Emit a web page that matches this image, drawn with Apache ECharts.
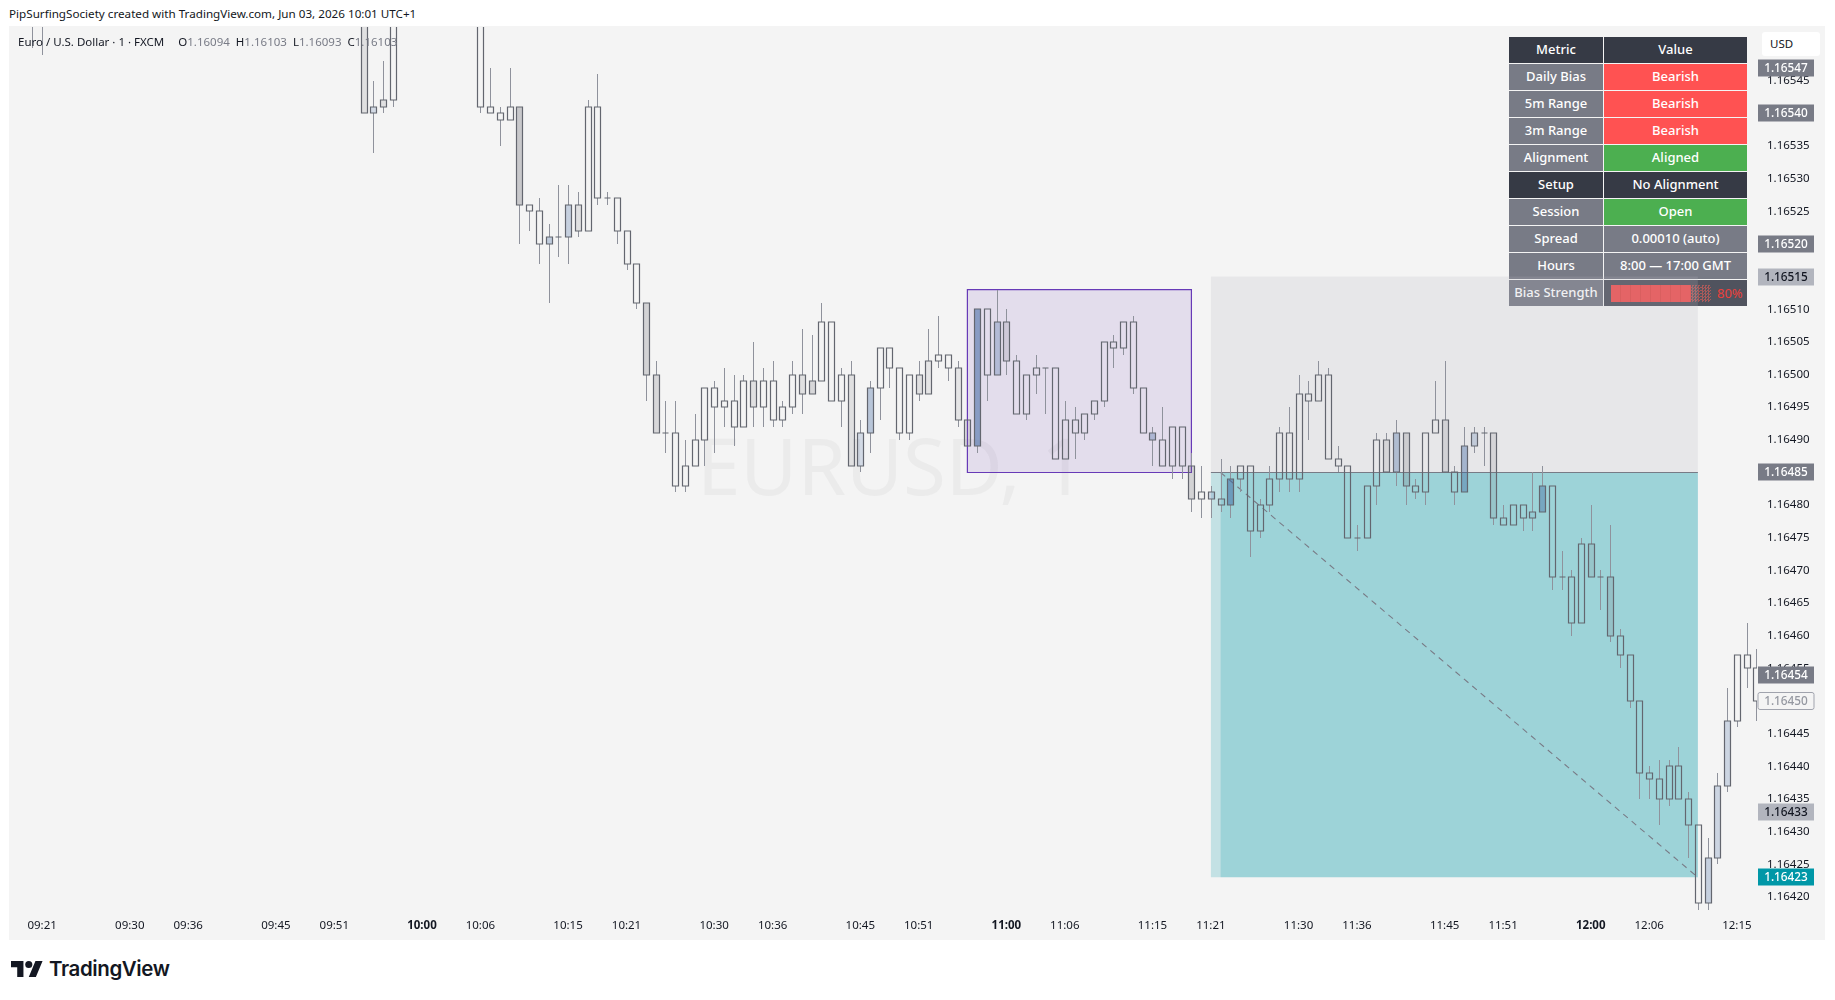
<!DOCTYPE html>
<html lang="en">
<head>
<meta charset="UTF-8">
<title>EURUSD 1m</title>
<style>
    html, body { margin: 0; padding: 0; background: #fff; overflow: hidden; }
    body { width: 1835px; height: 1000px; position: relative; font-family: "Noto Sans", sans-serif; color: #131722; }
    #stamp { position: absolute; left: 9px; top: 6px; font-size: 11.67px; line-height: 16px; white-space: nowrap; }
    #pane { position: absolute; left: 9px; top: 26px; width: 1816px; height: 914px; background: #f4f4f4; }
    #chart { position: absolute; left: 0; top: 0; width: 1835px; height: 1000px; z-index: 2; }
    #legend { position: absolute; left: 18px; top: 33px; font-size: 11.5px; line-height: 18px; z-index: 3; white-space: nowrap; }
    #legend span { margin-left: 6px; }
    #legend span:first-child { margin-left: 14px; }
    #legend i { font-style: normal; color: #787b86; }
    #usd { position: absolute; left: 1762px; top: 32px; width: 58px; height: 24px; line-height: 24px; background: #fff; border-radius: 3px; font-size: 11.5px; text-indent: 8px; }
    #logo { position: absolute; left: 11px; top: 959px; display: flex; align-items: center; font: 600 20.5px/20px Inter, sans-serif; color: #131722; letter-spacing: -0.4px; }
    #logo svg { margin-right: 6px; }
    /* info table, sits under the transparent canvas so the zone can wash over it */
    #info { position: absolute; left: 1509px; top: 37px; width: 238px; z-index: 1; font-size: 13px; font-weight: 500; color: #fff; }
    #info div.row { display: flex; height: 26px; margin-bottom: 1px; line-height: 25px; text-align: center; }
    #info div.a { width: 94px; margin-right: 1px; }
    #info div.b { width: 143px; }
    .head { background: #363a45; } .plain { background: #787b86; } .bear { background: #ff5252; } .bull { background: #4caf50; } .dark { background: #50535e; }
    #meter { display: flex; align-items: center; height: 26px; padding-left: 7px; }
    #meter b { display: block; width: 10px; height: 17px; box-sizing: border-box; background: #f05050; border-right: 1px solid #e34a48; }
    #meter b.off { background: repeating-conic-gradient(#a85a5a 0 25%, transparent 0 50%) 0 0/3px 3px; border: 0; }
    #meter em { font-style: normal; font-weight: 400; color: #ec3f3b; margin-left: 6px; }
</style>
</head>
<body>
<div id="stamp">PipSurfingSociety created with TradingView.com, Jun 03, 2026 10:01 UTC+1</div>
<div id="pane"></div>
<div id="info"></div>
<div id="usd">USD</div>
<div id="chart"></div>
<div id="legend">Euro / U.S. Dollar · 1 · FXCM<span>O<i>1.16094</i></span><span>H<i>1.16103</i></span><span>L<i>1.16093</i></span><span>C<i>1.16103</i></span></div>
<div id="logo">
    <svg width="32" height="16" viewBox="0 0 36 18"><path fill="#131722" d="M14 18H7V7H0V0h14v18zM28 18h-8l7.5-18h8L28 18z"/><circle fill="#131722" cx="20" cy="4" r="4"/></svg>
    TradingView
</div>

<script src="https://cdn.jsdelivr.net/npm/echarts@6/dist/echarts.min.js"></script>
<script>
// 1 minute bars that show in the picture (the ones in between sit above the top of the chart)
var times = [
    '09:20','09:21','09:54','09:55','09:56','09:57','10:06','10:07','10:08','10:09',
    '10:10','10:11','10:12','10:13','10:14','10:15','10:16','10:17','10:18','10:19',
    '10:20','10:21','10:22','10:23','10:24','10:25','10:26','10:27','10:28','10:29',
    '10:30','10:31','10:32','10:33','10:34','10:35','10:36','10:37','10:38','10:39',
    '10:40','10:41','10:42','10:43','10:44','10:45','10:46','10:47','10:48','10:49',
    '10:50','10:51','10:52','10:53','10:54','10:55','10:56','10:57','10:58','10:59',
    '11:00','11:01','11:02','11:03','11:04','11:05','11:06','11:07','11:08','11:09',
    '11:10','11:11','11:12','11:13','11:14','11:15','11:16','11:17','11:18','11:19',
    '11:20','11:21','11:22','11:23','11:24','11:25','11:26','11:27','11:28','11:29',
    '11:30','11:31','11:32','11:33','11:34','11:35','11:36','11:37','11:38','11:39',
    '11:40','11:41','11:42','11:43','11:44','11:45','11:46','11:47','11:48','11:49',
    '11:50','11:51','11:52','11:53','11:54','11:55','11:56','11:57','11:58','11:59',
    '12:00','12:01','12:02','12:03','12:04','12:05','12:06','12:07','12:08','12:09',
    '12:10','12:11','12:12','12:13','12:14','12:15','12:16','12:17'
];
var opens = [
    1.16560,1.16558,1.16558,1.16540,1.16542,1.16542,1.16560,1.16541,1.16540,1.16539,
    1.16541,1.16526,1.16525,1.16520,1.16521,1.16521,1.16526,1.16522,1.16541,1.16527,
    1.16527,1.16522,1.16517,1.16511,1.16500,1.16491,1.16491,1.16483,1.16486,1.16490,
    1.16498,1.16495,1.16496,1.16492,1.16499,1.16495,1.16499,1.16493,1.16495,1.16500,
    1.16499,1.16499,1.16508,1.16496,1.16500,1.16486,1.16491,1.16498,1.16504,1.16501,
    1.16491,1.16500,1.16502,1.16502,1.16503,1.16501,1.16493,1.16489,1.16510,1.16500,
    1.16508,1.16502,1.16494,1.16500,1.16501,1.16501,1.16487,1.16493,1.16491,1.16494,
    1.16496,1.16505,1.16504,1.16508,1.16498,1.16490,1.16490,1.16486,1.16492,1.16486,
    1.16481,1.16481,1.16480,1.16480,1.16484,1.16486,1.16476,1.16480,1.16484,1.16491,
    1.16484,1.16497,1.16496,1.16500,1.16487,1.16486,1.16475,1.16475,1.16483,1.16490,
    1.16485,1.16491,1.16483,1.16482,1.16491,1.16493,1.16485,1.16482,1.16489,1.16491,
    1.16491,1.16478,1.16477,1.16480,1.16478,1.16479,1.16483,1.16469,1.16469,1.16462,
    1.16474,1.16469,1.16469,1.16460,1.16457,1.16450,1.16439,1.16438,1.16435,1.16440,
    1.16435,1.16431,1.16419,1.16426,1.16437,1.16447,1.16457,1.16455
];
var highs = [
    1.16562,1.16560,1.16560,1.16545,1.16548,1.16560,1.16561,1.16547,1.16541,1.16547,
    1.16541,1.16526,1.16527,1.16523,1.16529,1.16529,1.16528,1.16542,1.16546,1.16528,
    1.16527,1.16522,1.16517,1.16511,1.16502,1.16496,1.16496,1.16490,1.16494,1.16498,
    1.16499,1.16501,1.16500,1.16500,1.16505,1.16501,1.16502,1.16496,1.16502,1.16507,
    1.16506,1.16511,1.16508,1.16501,1.16502,1.16493,1.16499,1.16504,1.16504,1.16501,
    1.16500,1.16502,1.16507,1.16509,1.16503,1.16502,1.16493,1.16510,1.16510,1.16513,
    1.16510,1.16503,1.16500,1.16503,1.16501,1.16501,1.16496,1.16495,1.16494,1.16496,
    1.16505,1.16506,1.16508,1.16509,1.16498,1.16492,1.16495,1.16492,1.16492,1.16488,
    1.16486,1.16483,1.16487,1.16486,1.16486,1.16486,1.16481,1.16486,1.16492,1.16495,
    1.16500,1.16499,1.16502,1.16501,1.16489,1.16486,1.16477,1.16483,1.16491,1.16491,
    1.16493,1.16491,1.16484,1.16491,1.16499,1.16502,1.16486,1.16492,1.16492,1.16492,
    1.16491,1.16480,1.16480,1.16480,1.16485,1.16486,1.16483,1.16473,1.16470,1.16475,
    1.16480,1.16470,1.16477,1.16461,1.16457,1.16450,1.16440,1.16441,1.16441,1.16443,
    1.16436,1.16431,1.16429,1.16439,1.16452,1.16457,1.16462,1.16458
];
var lows = [
    1.16550,1.16549,1.16540,1.16534,1.16540,1.16541,1.16540,1.16540,1.16535,1.16539,
    1.16520,1.16522,1.16517,1.16511,1.16518,1.16517,1.16521,1.16522,1.16526,1.16526,
    1.16520,1.16516,1.16510,1.16496,1.16491,1.16488,1.16482,1.16482,1.16486,1.16486,
    1.16488,1.16492,1.16489,1.16492,1.16492,1.16492,1.16492,1.16492,1.16494,1.16494,
    1.16497,1.16499,1.16496,1.16492,1.16486,1.16485,1.16488,1.16493,1.16498,1.16490,
    1.16490,1.16496,1.16497,1.16501,1.16499,1.16492,1.16489,1.16488,1.16496,1.16500,
    1.16500,1.16494,1.16493,1.16497,1.16494,1.16487,1.16487,1.16487,1.16490,1.16493,
    1.16495,1.16501,1.16503,1.16497,1.16491,1.16486,1.16486,1.16484,1.16484,1.16479,
    1.16478,1.16478,1.16479,1.16478,1.16482,1.16472,1.16475,1.16479,1.16482,1.16482,
    1.16482,1.16490,1.16496,1.16487,1.16485,1.16475,1.16473,1.16475,1.16480,1.16485,
    1.16483,1.16480,1.16481,1.16480,1.16491,1.16485,1.16480,1.16482,1.16488,1.16486,
    1.16477,1.16477,1.16477,1.16476,1.16476,1.16479,1.16467,1.16467,1.16460,1.16462,
    1.16469,1.16464,1.16459,1.16455,1.16449,1.16435,1.16435,1.16431,1.16434,1.16435,
    1.16426,1.16418,1.16418,1.16425,1.16436,1.16446,1.16452,1.16447
];
var closes = [
    1.16558,1.16556,1.16540,1.16541,1.16541,1.16558,1.16541,1.16540,1.16539,1.16541,
    1.16526,1.16525,1.16520,1.16521,1.16521,1.16526,1.16522,1.16541,1.16527,1.16527,
    1.16522,1.16517,1.16511,1.16500,1.16491,1.16491,1.16483,1.16486,1.16490,1.16498,
    1.16495,1.16496,1.16492,1.16499,1.16495,1.16499,1.16493,1.16495,1.16500,1.16497,
    1.16497,1.16508,1.16496,1.16500,1.16486,1.16491,1.16498,1.16504,1.16501,1.16491,
    1.16500,1.16497,1.16497,1.16503,1.16501,1.16493,1.16489,1.16510,1.16500,1.16508,
    1.16502,1.16494,1.16500,1.16501,1.16501,1.16487,1.16493,1.16491,1.16494,1.16496,
    1.16505,1.16504,1.16508,1.16498,1.16491,1.16491,1.16486,1.16492,1.16486,1.16481,
    1.16482,1.16482,1.16481,1.16484,1.16486,1.16476,1.16480,1.16484,1.16491,1.16484,
    1.16497,1.16496,1.16500,1.16487,1.16486,1.16475,1.16475,1.16483,1.16490,1.16485,
    1.16491,1.16483,1.16482,1.16491,1.16493,1.16485,1.16482,1.16489,1.16491,1.16491,
    1.16478,1.16477,1.16480,1.16478,1.16479,1.16483,1.16469,1.16469,1.16462,1.16474,
    1.16469,1.16469,1.16460,1.16457,1.16450,1.16439,1.16438,1.16435,1.16440,1.16435,
    1.16431,1.16419,1.16426,1.16437,1.16447,1.16457,1.16455,1.16450
];
// relative volume of each bar, the stronger the more solid the candle body looks
var volumes = [
    0,0,.2,.25,.2,0,0,0,0,0,
    .45,0,0,.4,0,.35,.2,0,0,0,
    0,0,0,.35,.3,0,0,0,0,0,
    0,0,0,0,.2,0,0,0,0,.2,
    .3,0,0,0,.2,.25,.45,0,0,0,
    0,.2,.15,0,0,.15,.2,.75,0,.4,
    .25,0,0,0,0,0,0,0,0,0,
    0,0,0,0,0,.45,0,0,0,.35,
    0,.25,.1,.7,0,0,0,0,0,0,
    0,0,0,0,0,0,0,0,0,.2,
    .45,.3,0,0,0,.25,0,.55,.3,0,
    .2,0,0,0,.1,.55,0,0,0,0,
    .2,0,.25,0,0,0,0,0,0,0,
    0,0,.35,.3,.3,0,0,0
];

var timeTicks = ['09:21','09:30','09:36','09:45','09:51','10:00','10:06','10:15','10:21','10:30','10:36','10:45','10:51','11:00','11:06','11:15','11:21','11:30','11:36','11:45','11:51','12:00','12:06','12:15'];
var priceTicks = [1.16420,1.16425,1.16430,1.16435,1.16440,1.16445,1.16450,1.16455,1.16460,1.16465,1.16470,1.16475,1.16480,1.16485,1.16490,1.16495,1.16500,1.16505,1.16510,1.16515,1.16520,1.16525,1.16530,1.16535,1.16540,1.16545];

// levels flagged on the price scale
var levelPrices = [1.16547,1.16540,1.16520,1.16515,1.16485,1.16454,1.16450,1.16433,1.16423];
var levelKinds = ['line','line','line','soft','line','line','last','soft','target'];

// drawings
var rangeBox = ['10:56','11:19',1.16485,1.16513];
var stopBox = ['11:21','12:11',1.16485,1.16515];
var targetBox = ['11:21','12:11',1.16423,1.16485];
var targetBox2 = ['11:22','12:11',1.16423,1.16485];
var entryLine = [['11:21',1.16485],['12:11',1.16485]];
var pathLine = [['11:22',1.16485],['12:11',1.16423]];

// info table
var metrics = ['Metric','Daily Bias','5m Range','3m Range','Alignment','Setup','Session','Spread','Hours','Bias Strength'];
var metricValues = ['Value','Bearish','Bearish','Bearish','Aligned','No Alignment','Open','0.00010 (auto)','8:00 — 17:00 GMT',''];
var metricKinds = ['head','bear','bear','bear','bull','head','bull','plain','plain','dark'];
var biasStrength = 80;

function toMin(s) {
    var p = s.split(':');
    return p[0] * 60 + (+p[1]);
}
function toHM(m) {
    var h = Math.floor(m / 60), n = Math.round(m - h * 60);
    return (h < 10 ? '0' : '') + h + ':' + (n < 10 ? '0' : '') + n;
}

// table
var html = '';
for (var i = 0; i < metrics.length; i++) {
    var left = metricKinds[i] == 'head' ? 'head' : 'plain';
    var right = metricValues[i];
    if (i == metrics.length - 1) {
        right = '<div id="meter">';
        for (var j = 0; j < 10; j++) {
            right += j < biasStrength / 10 ? '<b></b>' : '<b class="off"></b>';
        }
        right += '<em>' + biasStrength + '%</em></div>';
    }
    html += '<div class="row"><div class="a ' + left + '">' + metrics[i] + '</div><div class="b ' + metricKinds[i] + '">' + right + '</div></div>';
}
document.getElementById('info').innerHTML = html;

var fontName = '"Noto Sans", sans-serif';
var barData = times.map(function (t, i) {
    return [toMin(t), opens[i], highs[i], lows[i], closes[i], volumes[i]];
});

function zone(box, style) {
    return [
        { xAxis: toMin(box[0]), yAxis: box[2], itemStyle: style },
        { xAxis: toMin(box[1]), yAxis: box[3] }
    ];
}

function renderBar(params, api) {
    var t = api.value(0), o = api.value(1), h = api.value(2), l = api.value(3), c = api.value(4), v = api.value(5) * 0.72;
    var x = Math.round(api.coord([t, o])[0]) + 0.5;
    var top = Math.round(api.coord([t, Math.max(o, c)])[1]);
    var bot = Math.round(api.coord([t, Math.min(o, c)])[1]);
    var hi = Math.round(api.coord([t, h])[1]);
    var lo = Math.round(api.coord([t, l])[1]);
    var fill = c > o ? 'rgba(60,100,160,' + v + ')' : 'rgba(110,112,120,' + v + ')';
    return {
        type: 'group',
        children: [
            { type: 'line', shape: { x1: x, y1: hi, x2: x, y2: top }, style: { stroke: '#8f929c', lineWidth: 1 } },
            { type: 'line', shape: { x1: x, y1: bot, x2: x, y2: lo }, style: { stroke: '#8f929c', lineWidth: 1 } },
            { type: 'rect', shape: { x: x - 3, y: top, width: 6, height: bot - top }, style: { fill: fill, stroke: '#63666f', lineWidth: 1.2 } }
        ]
    };
}

var levelStyles = {
    line: { bg: '#787b86', text: '#fff', border: null },
    soft: { bg: '#b2b5be', text: '#131722', border: null },
    last: { bg: '#f4f4f4', text: '#9598a1', border: '#a0a3ad' },
    target: { bg: '#0097a7', text: '#fff', border: null }
};

function renderLevel(params, api) {
    var p = api.coord([xMax, api.value(0)]);
    var s = levelStyles[levelKinds[params.dataIndex]];
    var isFlat = !s.border;
    return {
        type: 'group',
        children: [
            { type: 'rect', shape: { x: p[0] + 1, y: Math.round(p[1]) - 8.5, width: 56, height: 17, r: isFlat ? 0 : 2 },
              style: { fill: s.bg, stroke: s.border || s.bg, lineWidth: s.border ? 1 : 0 } },
            { type: 'text', style: { x: p[0] + 29, y: Math.round(p[1]) + 0.5, text: api.value(0).toFixed(5), fill: s.text,
              font: '500 11.8px ' + fontName, align: 'center', verticalAlign: 'middle' } }
        ]
    };
}

var xMin = 557.6, xMax = 737.07;
var myChart = echarts.init(document.getElementById('chart'));

var option = {
    animation: false,
    backgroundColor: 'transparent',
    grid: { left: 9, top: 27, width: 1748, height: 887 },
    graphic: [{
        type: 'text', left: 697, top: 434, z: -1, silent: true,
        style: { text: 'EURUSD, 1', fill: '#ebebeb', font: '78px ' + fontName }
    }],
    xAxis: {
        type: 'value', min: xMin, max: xMax,
        splitLine: { show: false }, axisLine: { show: false }, axisTick: { show: false },
        axisLabel: {
            customValues: timeTicks.map(toMin),
            margin: 6, color: '#131722', fontSize: 11.5, fontFamily: fontName, hideOverlap: false,
            formatter: function (v) {
                var s = toHM(v);
                return s.slice(3) == '00' ? '{b|' + s + '}' : s;
            },
            rich: { b: { fontWeight: 'bold', fontSize: 11.5, fontFamily: fontName, color: '#131722' } }
        }
    },
    yAxis: {
        type: 'value', position: 'right', min: 1.1641739, max: 1.1655322, scale: true,
        splitLine: { show: false }, axisLine: { show: false }, axisTick: { show: false },
        axisLabel: {
            customValues: priceTicks,
            margin: 10, color: '#131722', fontSize: 11.5, fontFamily: fontName,
            formatter: function (v) { return v.toFixed(5); }
        }
    },
    series: [
        {
            name: 'path', type: 'line', z: 1, silent: true, showSymbol: false,
            data: pathLine.map(function (d) { return [toMin(d[0]), d[1]]; }),
            lineStyle: { color: '#787b86', width: 1.1, type: [6, 5] },
            markArea: {
                silent: true,
                data: [
                    zone(rangeBox, { color: 'rgba(103,58,183,0.12)', borderColor: '#673ab7', borderWidth: 1.2 }),
                    zone(stopBox, { color: 'rgba(178,181,190,0.2)' }),
                    zone(targetBox, { color: 'rgba(0,151,167,0.2)' }),
                    zone(targetBox2, { color: 'rgba(0,151,167,0.2)' })
                ]
            }
        },
        {
            name: 'entry', type: 'line', z: 1, silent: true, showSymbol: false,
            data: entryLine.map(function (d) { return [toMin(d[0]), d[1]]; }),
            lineStyle: { color: '#787b86', width: 1.2 }
        },
        {
            name: 'EURUSD', type: 'custom', z: 3, silent: true, clip: true,
            renderItem: renderBar,
            encode: { x: 0, y: [1, 2, 3, 4] },
            data: barData
        },
        {
            name: 'levels', type: 'custom', z: 5, silent: true,
            renderItem: renderLevel,
            encode: { y: 0 },
            data: levelPrices.map(function (p) { return [p]; })
        }
    ]
};

myChart.setOption(option);
</script>
</body>
</html>
